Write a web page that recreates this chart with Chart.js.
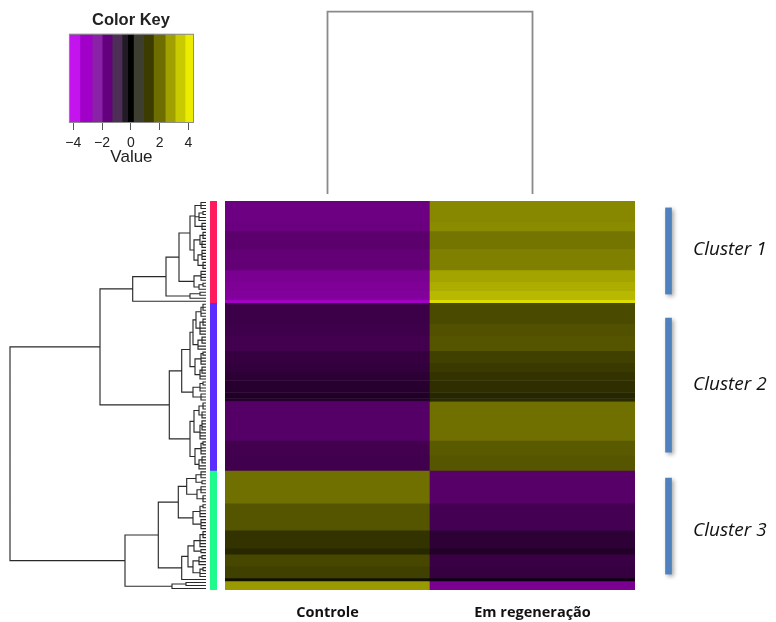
<!DOCTYPE html>
<html><head><meta charset="utf-8">
<script src="https://cdn.jsdelivr.net/npm/chart.js@4.4.1/dist/chart.umd.min.js"></script>
<style>
html,body{margin:0;padding:0;background:#fff;}
#wrap{position:relative;width:776px;height:622px;overflow:hidden;background:#fff;}
canvas{position:absolute;display:block;}
</style></head><body>
<div id="wrap">
<canvas id="key" width="145" height="175" style="left:60px;top:0px"></canvas>
<canvas id="colDen" width="410" height="194" style="left:225px;top:0px"></canvas>
<canvas id="rowDen" width="206" height="389" style="left:0px;top:201px"></canvas>
<canvas id="side" width="7" height="389" style="left:210px;top:201px"></canvas>
<canvas id="heat" width="410" height="421" style="left:225px;top:201px"></canvas>
<canvas id="notes" width="126" height="389" style="left:650px;top:201px"></canvas>
</div>
<script>
// ---------------- DATA ----------------
const columns = ['Controle', 'Em regeneração'];
// heatmap row bands (top to bottom), number of gene rows in each band
const bandRows    = [7, 3, 6, 7, 4, 3, 3, 1,   7, 4, 5, 4, 3, 3, 4, 2, 1, 13, 5, 5,   11, 9, 6, 2, 4, 4, 1, 3];
const ctrlValues  = [-2.33,-2.28,-1.98,-2.12,-2.60,-2.70,-2.80,-3.55,  -1.29,-1.35,-1.42,-1.15,-1.08,-0.95,-0.84,-0.70,-0.80,-1.83,-1.42,-1.38,  2.01,1.53,0.92,0.72,1.28,1.15,0.29,2.77];
const regenValues = [2.44,2.50,2.08,2.30,2.95,3.10,3.30,3.95,  1.33,1.45,1.53,1.15,1.05,0.92,0.83,0.68,0.78,2.01,1.62,1.55,  -1.87,-1.47,-0.97,-0.72,-1.24,-1.15,-0.29,-2.59];
// colour key
const keyBreaks = [-4.3,-3.54,-2.69,-1.99,-1.30,-0.61,-0.22,0.19,0.89,1.58,2.39,3.08,3.77,4.39];
const keyTicks  = [-4,-2,0,2,4];
// row clusters
const clusterNames = ['Cluster 1','Cluster 2','Cluster 3'];
const clusterRows  = [34, 56, 40];
const clusterMarkStart = [2.3, 39.1, 92.6];
const clusterMarkEnd   = [31.1, 83.9, 124.7];
const clusterLabelRows = [16.3, 61.5, 110.0];
// column dendrogram
const colMergeHeight = 1.0;
// row dendrogram: [height, child, child, ...]; a number n = n leaves
const rowTree =
[19.6,
  [10.6,
    [7.33,
      [4.0,
        [2.7,
          [1.6,
            [1.1, [0.5,3], [0.7,[0.3,2],2], [0.4,3]],
            [1.2, [0.6,[0.3,3],[0.4,3]], [0.8,[0.4,4],[0.3,3]]]
          ],
          [1.2, [0.5,4], [0.7,[0.3,2],1]]
        ],
        [1.6, [0.6,2], 1]
      ],
      1
    ],
    [3.67,
      [2.43,
        [1.6,
          [1.3, [1.0,[0.5,[0.3,3],2],[0.6,[0.3,3],3]], [0.8,[0.4,3],2]],
          [1.1, [0.5,[0.3,2],3], [0.6,[0.4,3],2]]
        ],
        [1.3, [0.6,[0.3,2],2], [0.5,3]]
      ],
      [1.6,
        [1.2, [0.7,[0.3,3],[0.4,3]], [0.6,[0.4,4],3]],
        [1.1, [0.5,[0.3,2],3], [0.7,[0.4,3],2]]
      ]
    ]
  ],
  [8.1,
    [4.77,
      [2.77,
        [1.93, [1.0,[0.5,3],[0.4,2]], [0.9,[0.5,3],[0.3,3]]],
        [1.3, [0.6,[0.3,2],3], [0.5,4]]
      ],
      [2.43,
        [1.8, [1.2,[0.6,[0.3,3],3],[0.5,2]], [1.3,[0.7,[0.4,2],2],[0.6,[0.3,2],2]]],
        1
      ]
    ],
    [3.4, [2.0,2], 1]
  ]
];

// ---------------- STYLE ----------------
const keyColors = ['#c414ee','#a000c8','#8a22a8','#64007e','#4c2e56','#221a24','#000000','#3e3e30','#3c3c00','#6e6e00','#a0a000','#caca00','#ecec00'];
const sideColors = ['#ff1a5e','#5a2cff','#1efa8c'];
const LOW = [205,0,245], HIGH = [245,245,0], VMAX = 4.4;
function colorFor(v){
  const t = Math.min(1, Math.abs(v)/VMAX);
  const e = v < 0 ? LOW : HIGH;
  return 'rgb(' + e.map(c => Math.round(c*t)).join(',') + ')';
}
const totalRows = bandRows.reduce((a,b)=>a+b,0);
Chart.defaults.animation = false;
Chart.defaults.responsive = false;
Chart.defaults.plugins.legend.display = false;
Chart.defaults.plugins.tooltip.enabled = false;
Chart.defaults.font.family = 'Liberation Sans';

// ---------------- COLOR KEY ----------------
const boxPlugin = {id:'box', afterDatasetsDraw(c){const a=c.chartArea, x=c.ctx; x.save(); x.strokeStyle='#8c8c8c'; x.lineWidth=1; x.strokeRect(a.left+0.5,a.top+0.5,a.right-a.left-1,a.bottom-a.top-1); x.restore();}};
new Chart(document.getElementById('key'), {
  type:'bar',
  data:{labels:[''], datasets: keyColors.map((c,i)=>({data:[[keyBreaks[i], keyBreaks[i+1]]], backgroundColor:c, borderWidth:0, grouped:false, categoryPercentage:1, barPercentage:1}))},
  options:{
    indexAxis:'y',
    layout:{autoPadding:false, padding:{left:8,right:11,bottom:7,top:0}},
    plugins:{title:{display:true, text:'Color Key', color:'#222', font:{family:'Liberation Sans', weight:'bold', size:16.5}, padding:{top:11,bottom:3}}},
    scales:{
      y:{display:false},
      x:{type:'linear', min:keyBreaks[0], max:keyBreaks[keyBreaks.length-1],
         grid:{display:true, drawOnChartArea:false, drawTicks:true, tickLength:7, color:'#555'},
         border:{display:false},
         afterBuildTicks:s=>{s.ticks = keyTicks.map(v=>({value:v}));},
         ticks:{padding:5, color:'#222', font:{size:14}, callback:v=> v<0 ? '\u2212'+Math.abs(v) : String(v)},
         title:{display:true, text:'Value', color:'#222', font:{size:17}, padding:0},
         afterFit:s=>{s.height=45;}
      }
    }
  },
  plugins:[boxPlugin]
});

// ---------------- COLUMN DENDROGRAM ----------------
const colPts = [];
columns.forEach((c,i)=>{ if(i===0){colPts.push({x:i+0.5,y:0},{x:i+0.5,y:colMergeHeight});} else {colPts.push({x:i+0.5,y:colMergeHeight},{x:i+0.5,y:0});} });
new Chart(document.getElementById('colDen'), {
  type:'scatter',
  data:{datasets:[{data:colPts, showLine:true, pointRadius:0, borderColor:'#8a8a8a', borderWidth:1.8}]},
  options:{layout:{autoPadding:false, padding:0}, scales:{x:{display:false,min:0,max:columns.length}, y:{display:false,min:0,max:colMergeHeight*1.064}}}
});

// ---------------- ROW DENDROGRAM ----------------
const denPts = [];
let leafIdx = 0;
function poly(list){ list.forEach(p=>denPts.push({x:p[0], y:p[1]})); denPts.push({x:0, y:null}); }
function layout(node){
  const h = node[0], kids = [];
  for(let i=1;i<node.length;i++){
    const c = node[i];
    if(typeof c === 'number'){ for(let k=0;k<c;k++){ kids.push({pos:leafIdx+0.5, h:0}); leafIdx++; } }
    else kids.push(layout(c));
  }
  const f = kids[0], l = kids[kids.length-1];
  poly([[f.h,f.pos],[h,f.pos],[h,l.pos],[l.h,l.pos]]);
  for(let i=1;i<kids.length-1;i++) poly([[kids[i].h,kids[i].pos],[h,kids[i].pos]]);
  return {pos:(f.pos+l.pos)/2, h};
}
layout(rowTree);
new Chart(document.getElementById('rowDen'), {
  type:'scatter',
  data:{datasets:[{data:denPts, showLine:true, spanGaps:false, pointRadius:0, borderColor:'#2a2a2a', borderWidth:1.15}]},
  options:{layout:{autoPadding:false, padding:0}, scales:{x:{display:false, reverse:true, min:0, max:20.6}, y:{display:false, reverse:true, min:0, max:totalRows}}}
});

// ---------------- SIDE COLOUR BAR ----------------
new Chart(document.getElementById('side'), {
  type:'bar',
  data:{labels:[''], datasets: clusterRows.map((n,i)=>({data:[n], backgroundColor:sideColors[i], borderWidth:0, categoryPercentage:1, barPercentage:1}))},
  options:{layout:{autoPadding:false, padding:0}, scales:{x:{display:false, stacked:true}, y:{display:false, stacked:true, reverse:true, min:0, max:totalRows}}}
});

// ---------------- HEATMAP ----------------
new Chart(document.getElementById('heat'), {
  type:'bar',
  data:{labels:columns, datasets: bandRows.map((n,i)=>({data:[n,n], backgroundColor:[colorFor(ctrlValues[i]), colorFor(regenValues[i])], borderWidth:0, categoryPercentage:1, barPercentage:1}))},
  options:{
    layout:{autoPadding:false, padding:0},
    scales:{
      x:{stacked:true, grid:{display:false, drawTicks:false}, border:{display:false},
         ticks:{padding:14, color:'#111', font:{family:'Open Sans', weight:'bold', size:14.5}},
         afterFit:s=>{s.height=32;}},
      y:{stacked:true, display:false, reverse:true, min:0, max:totalRows}
    }
  }
});

// ---------------- CLUSTER MARKERS ----------------
const shadowPlugin = {id:'shadow',
  beforeDatasetsDraw(c){const x=c.ctx; x.save(); x.shadowColor='rgba(0,0,0,0.35)'; x.shadowBlur=4; x.shadowOffsetX=2; x.shadowOffsetY=2;},
  afterDatasetsDraw(c){c.ctx.restore();}};
new Chart(document.getElementById('notes'), {
  type:'bar',
  data:{labels:[''], datasets: clusterNames.map((n,i)=>({data:[[clusterMarkStart[i], clusterMarkEnd[i]]], backgroundColor:'#4f81bd', borderWidth:0, grouped:false, barThickness:6}))},
  options:{
    layout:{autoPadding:false, padding:0},
    scales:{
      x:{display:false},
      y:{position:'right', reverse:true, min:0, max:totalRows,
         grid:{display:false, drawTicks:false}, border:{display:false},
         afterBuildTicks:s=>{s.ticks = clusterLabelRows.map(v=>({value:v}));},
         ticks:{padding:6, color:'#111', font:{family:'Open Sans', style:'italic', size:19}, callback:(v,i)=>clusterNames[i]},
         afterFit:s=>{s.width=89; s.paddingTop=0; s.paddingBottom=0;}}
    }
  },
  plugins:[shadowPlugin]
});
</script>
</body></html>
